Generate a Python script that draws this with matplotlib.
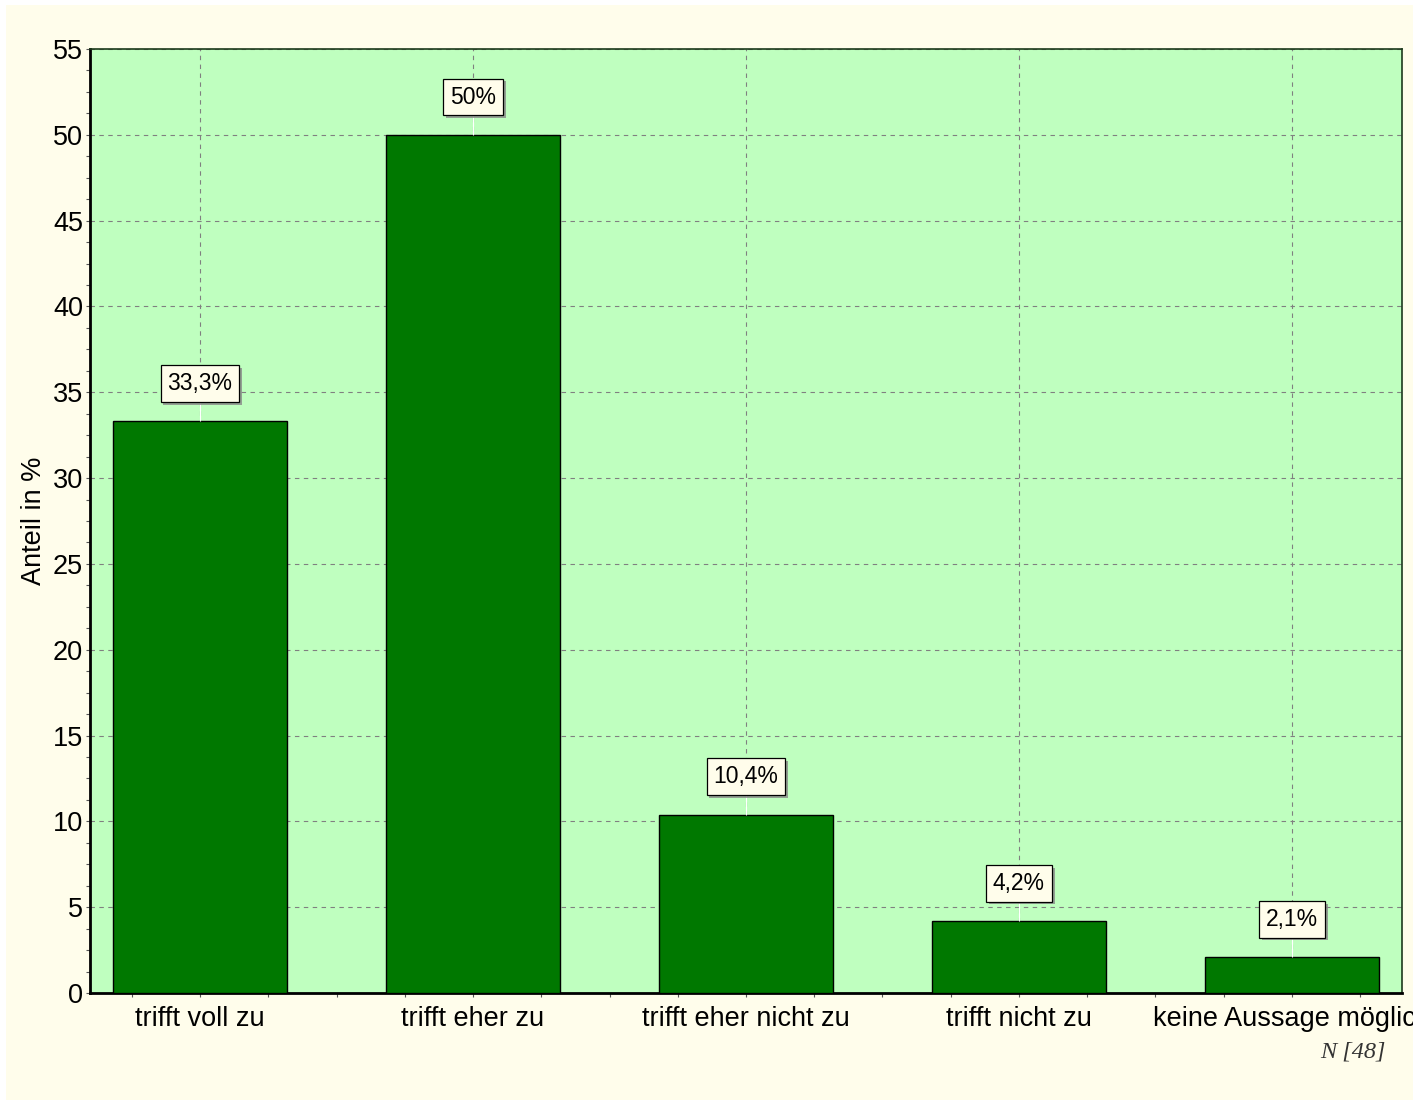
"""bar chart: Anteil in % per answer category"""

import matplotlib.pyplot as plt
import matplotlib.patheffects as pe
from matplotlib.patches import Rectangle
from matplotlib.ticker import MultipleLocator
from matplotlib.transforms import Bbox, TransformedBbox

categories = ["trifft voll zu", "trifft eher zu", "trifft eher nicht zu",
              "trifft nicht zu", "keine Aussage möglich"]
values = [33.3, 50.0, 10.4, 4.2, 2.1]
value_labels = ["33,3%", "50%", "10,4%", "4,2%", "2,1%"]
y_ticks = [0, 5, 10, 15, 20, 25, 30, 35, 40, 45, 50, 55]

CREAM = "#fffdeb"
plt.rcParams["font.family"] = ["Liberation Sans", "DejaVu Sans"]

fig = plt.figure(figsize=(14.2, 11.02), dpi=100, facecolor="white")
x0, y0, x1, y1 = 6 / 1420, 2 / 1102, 1413 / 1420, 1097 / 1102
bg = Rectangle((x0, y0), x1 - x0, y1 - y0,
               transform=fig.transFigure, facecolor=CREAM, edgecolor="none", zorder=-10)
fig.patches.append(bg)

ax = fig.add_axes([0.0634, 0.0989, 0.9239, 0.8566])
ax.set_facecolor("#bfffbf")

x = list(range(len(categories)))
ax.bar(x, values, width=0.64, color="#007800", edgecolor="black", linewidth=1.0, zorder=3)

ax.set_xlim(-0.403, len(categories) - 1 + 0.403)
ax.set_ylim(0, 55)
ax.set_yticks(y_ticks)
ax.yaxis.set_minor_locator(MultipleLocator(1.25))
ax.set_xticks(x)
ax.xaxis.set_minor_locator(MultipleLocator(0.25))
ax.set_xticklabels(categories[:-1] + [""])
ax.tick_params(axis="both", labelsize=19.5, color="#555555", length=3, width=0.8, pad=2)
ax.tick_params(axis="both", which="minor", length=3, color="#555555", width=0.8)
ax.tick_params(axis="x", pad=6)
ax.grid(True, which="major", linestyle=(0, (4, 4)), color="#808080", linewidth=0.8, zorder=0)

# last category label is cut off at the image border, as in the original
last = ax.annotate(categories[-1], xy=(x[-1], 0), xycoords=("data", "axes fraction"),
                   xytext=(0, -9), textcoords="offset points",
                   ha="center", va="top", fontsize=19.5, annotation_clip=False)
last.set_clip_on(True)
last.set_clip_box(TransformedBbox(Bbox.from_extents(x0, y0, x1, y1), fig.transFigure))

for spine in ["left", "bottom"]:
    ax.spines[spine].set_linewidth(2.0)
for spine in ["top", "right"]:
    ax.spines[spine].set_linewidth(1.2)
    ax.spines[spine].set_color("#1c3a1c")

ax.set_ylabel("Anteil in %", fontsize=19.5, labelpad=4)

for xi, v, lab in zip(x, values, value_labels):
    ax.vlines(xi, v, v + 1.5, color="white", linewidth=0.8, zorder=4)
    t = ax.text(xi, v + 2.2, lab, ha="center", va="center", fontsize=16.5, zorder=6,
                bbox=dict(boxstyle="square,pad=0.3", facecolor=CREAM,
                          edgecolor="black", linewidth=0.9))
    t.get_bbox_patch().set_path_effects(
        [pe.SimplePatchShadow(offset=(2, -2), shadow_rgbFace="#888888", alpha=0.8), pe.Normal()])

fig.text(1353 / 1420, 1 - 1052 / 1102, "N [48]", ha="center", va="center", fontsize=17.5,
         style="italic", family=["Liberation Serif", "DejaVu Serif"], color="#333333")

fig.savefig("out.png", dpi=100, facecolor="white")
